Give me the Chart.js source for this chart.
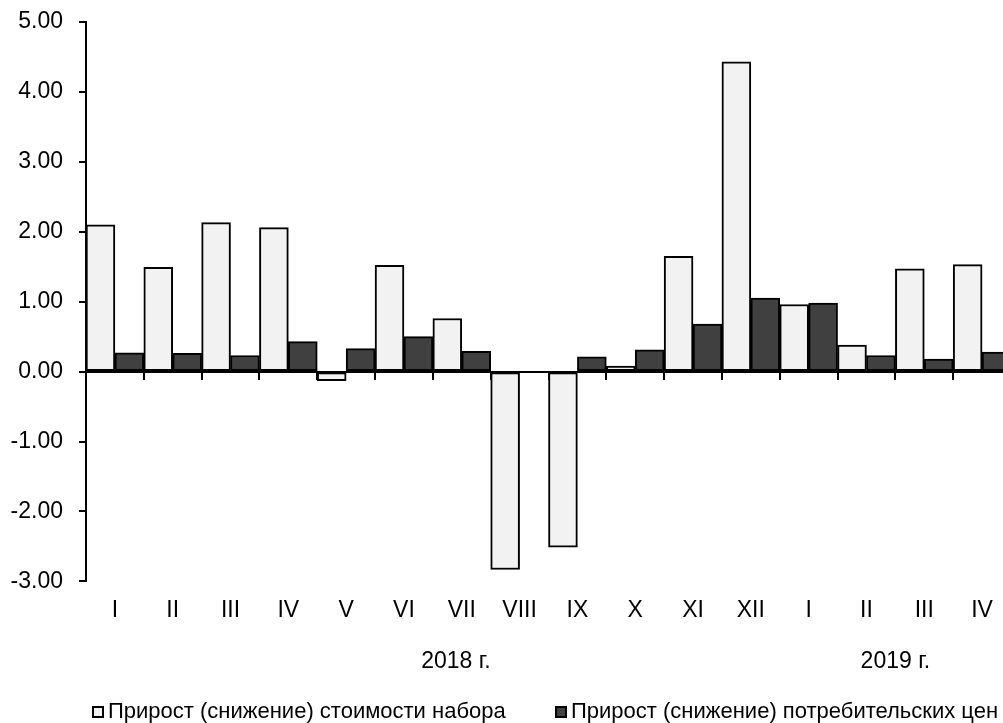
<!DOCTYPE html>
<html>
<head>
<meta charset="utf-8">
<script src="https://cdn.jsdelivr.net/npm/chart.js@4/dist/chart.umd.min.js"></script>
<style>
html,body{margin:0;padding:0;background:#fff;overflow:hidden;}
#wrap{position:absolute;left:0;top:0;width:1012px;height:723px;}
</style>
</head>
<body>
<div id="wrap"><canvas id="c" width="1012" height="723"></canvas></div>
<script>
const months = ['I','II','III','IV','V','VI','VII','VIII','IX','X','XI','XII','I','II','III','IV'];
const years = ['2018 г.', '2019 г.'];
const seriesNames = ['Прирост (снижение) стоимости набора', 'Прирост (снижение) потребительских цен'];
const costOfSet = [2.10, 1.49, 2.13, 2.06, -0.13, 1.52, 0.76, -2.83, -2.51, 0.08, 1.65, 4.43, 0.96, 0.38, 1.47, 1.53];
const consumerPrices = [0.27, 0.26, 0.23, 0.43, 0.33, 0.50, 0.29, 0, 0.21, 0.31, 0.68, 1.05, 0.98, 0.23, 0.18, 0.28];
const yTicks = [-3, -2, -1, 0, 1, 2, 3, 4, 5];

const FONT = 'Liberation Sans, Arial, sans-serif';

const yearPlugin = {
  id: 'yearLabels',
  afterDraw(chart) {
    const x = chart.scales.x;
    const ctx = chart.ctx;
    const anchors = [5.9, 13.5];
    ctx.save();
    ctx.font = '23px ' + FONT;
    ctx.fillStyle = '#000';
    ctx.textAlign = 'center';
    ctx.textBaseline = 'middle';
    years.forEach((t, i) => ctx.fillText(t, x.getPixelForValue(anchors[i]), 662));
    ctx.restore();
  }
};

const legendPlugin = {
  id: 'customLegend',
  afterDraw(chart) {
    const ctx = chart.ctx;
    const xs = [92, 555];
    const yc = 712;
    ctx.save();
    ctx.font = '22px ' + FONT;
    ctx.textBaseline = 'middle';
    ctx.textAlign = 'left';
    chart.data.datasets.forEach((ds, i) => {
      ctx.fillStyle = ds.backgroundColor;
      ctx.fillRect(xs[i], yc - 6, 12, 12);
      ctx.strokeStyle = '#000';
      ctx.lineWidth = 2;
      ctx.strokeRect(xs[i] + 1, yc - 5, 10, 10);
      ctx.fillStyle = '#000';
      ctx.fillText(ds.label, xs[i] + 16, yc);
    });
    ctx.restore();
  }
};

new Chart(document.getElementById('c'), {
  type: 'bar',
  data: {
    labels: months,
    datasets: [
      { label: seriesNames[0], data: costOfSet, backgroundColor: '#f2f2f2', borderColor: '#000', borderWidth: 2, borderSkipped: false, barPercentage: 1, categoryPercentage: 1, xAxisID: 'x', yAxisID: 'y' },
      { label: seriesNames[1], data: consumerPrices, backgroundColor: '#404040', borderColor: '#000', borderWidth: 2, borderSkipped: false, barPercentage: 1, categoryPercentage: 1, xAxisID: 'x', yAxisID: 'y' }
    ]
  },
  options: {
    responsive: false,
    animation: false,
    layout: { padding: { left: 0, right: 1, top: 22, bottom: 84 } },
    plugins: { legend: { display: false }, tooltip: { enabled: false } },
    scales: {
      x: {
        type: 'category',
        position: 'bottom',
        offset: true,
        grid: { display: false, drawTicks: false },
        border: { display: false },
        ticks: { color: '#000', font: { family: FONT, size: 23 }, padding: 15, maxRotation: 0, autoSkip: false },
        afterFit(s) { s.paddingLeft = 0; s.paddingRight = 0; }
      },
      x0: {
        type: 'category',
        labels: months,
        position: { y: 0 },
        offset: true,
        grid: { display: true, offset: true, drawOnChartArea: false, drawTicks: true, tickLength: 7, color: '#000', lineWidth: 2 },
        border: { display: true, color: '#000', width: 2 },
        ticks: { display: false },
        afterFit(s) { s.paddingLeft = 0; s.paddingRight = 0; }
      },
      y: {
        min: -3,
        max: 5,
        afterBuildTicks(scale) { scale.ticks = yTicks.map(v => ({ value: v })); },
        afterFit(s) { s.paddingTop = 0; s.paddingBottom = 0; s.width = 86; },
        grid: { display: true, drawOnChartArea: false, drawTicks: true, tickLength: 7, color: '#000', lineWidth: 2 },
        border: { display: true, color: '#000', width: 2 },
        ticks: { color: '#000', font: { family: FONT, size: 23 }, padding: 16, callback: v => Number(v).toFixed(2) }
      }
    }
  },
  plugins: [yearPlugin, legendPlugin]
});
</script>
</body>
</html>
